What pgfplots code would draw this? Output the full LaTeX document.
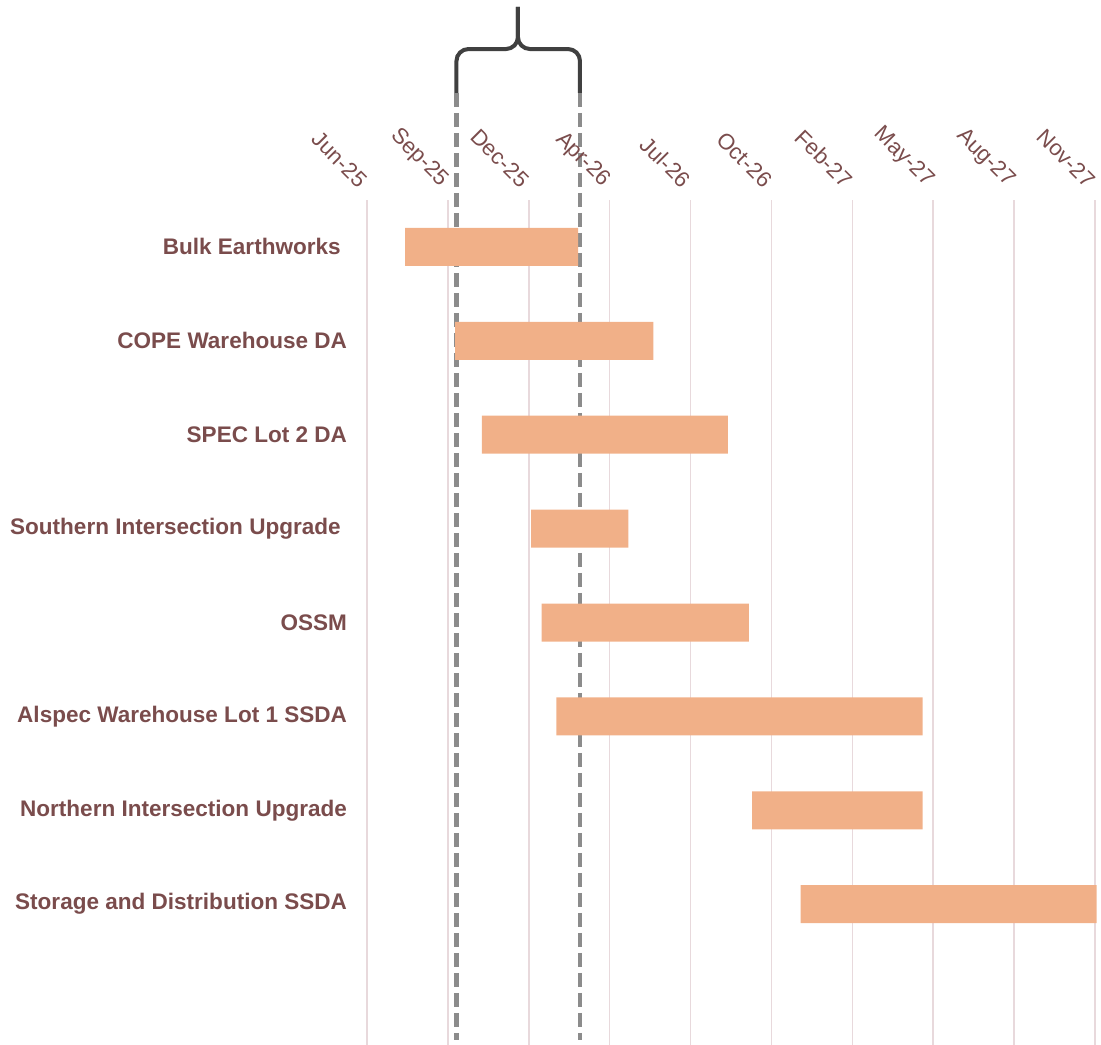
\documentclass[border=0pt]{standalone}
\usepackage{pgfplots}
\pgfplotsset{compat=1.18}
\usepackage{fontspec}
\setmainfont{Liberation Sans}
\definecolor{labc}{HTML}{7A4C4C}
\definecolor{barc}{HTML}{F1B088}
\definecolor{gridc}{HTML}{E8D9DC}
\definecolor{dashc}{HTML}{8C8C8C}
\definecolor{bracec}{HTML}{404040}
\begin{document}
\begin{tikzpicture}
\useasboundingbox (-275.25pt,0) rectangle (550.5pt,783.75pt);
% annotation axis: highlighted period
\begin{axis}[at={(0,0)}, anchor=south west, scale only axis,
  width=546pt, height=633.75pt,
  xmin=0, xmax=9, ymin=-0.5, ymax=8.5, y dir=reverse,
  hide axis, clip=false]
\addplot[dashc, line width=3.4pt, dash pattern=on 10.5pt off 4.5pt] coordinates {(1.106,-1.64) (1.106,8.447)};
\addplot[dashc, line width=3.4pt, dash pattern=on 10.5pt off 4.5pt] coordinates {(2.633,-1.64) (2.633,8.447)};
\draw[bracec, line width=3pt, rounded corners=9pt]
  (axis cs:1.106,-1.64) -- (axis cs:1.106,-2.108) -- (axis cs:1.866,-2.108) -- (axis cs:1.866,-2.556);
\draw[bracec, line width=3pt, rounded corners=9pt]
  (axis cs:2.633,-1.64) -- (axis cs:2.633,-2.108) -- (axis cs:1.866,-2.108) -- (axis cs:1.866,-2.556);
\end{axis}
% main Gantt axis
\begin{axis}[at={(0,0)}, anchor=south west, scale only axis,
  width=546pt, height=633.75pt,
  xmin=0, xmax=9, ymin=-0.5, ymax=8.5, y dir=reverse,
  xbar stacked, bar width=28.5pt,
  axis line style={draw=none},
  major tick length=0pt,
  xmajorgrids, major grid style={gridc, line width=1.1pt},
  xtick={0,1,2,3,4,5,6,7,8,9},
  xticklabels={Jun-25,Sep-25,Dec-25,Apr-26,Jul-26,Oct-26,Feb-27,May-27,Aug-27,Nov-27},
  xticklabel pos=upper,
  xticklabel shift=10pt,
  xticklabel style={rotate=-45, anchor=east, text=labc, font=\fontsize{16.6}{19}\selectfont},
  ytick={0,1,2,3,4,5,6,7},
  yticklabels={Bulk Earthworks\hspace*{0.278em},COPE Warehouse DA,SPEC Lot 2 DA,Southern Intersection Upgrade\hspace*{0.278em},OSSM,Alspec Warehouse Lot 1 SSDA,Northern Intersection Upgrade,Storage and Distribution SSDA},
  yticklabel style={text=labc, font=\fontsize{16.9}{20}\selectfont\bfseries, xshift=-11.5pt},
  clip=false]
\addplot[draw=none, fill=none] coordinates {
 (0.47,0) (1.09,1) (1.42,2) (2.03,3) (2.16,4) (2.34,5) (4.76,6) (5.36,7)};
\addplot[draw=none, fill=barc] coordinates {
 (2.14,0) (2.45,1) (3.04,2) (1.20,3) (2.56,4) (4.53,5) (2.11,6) (3.66,7)};
\end{axis}
\end{tikzpicture}
\end{document}
